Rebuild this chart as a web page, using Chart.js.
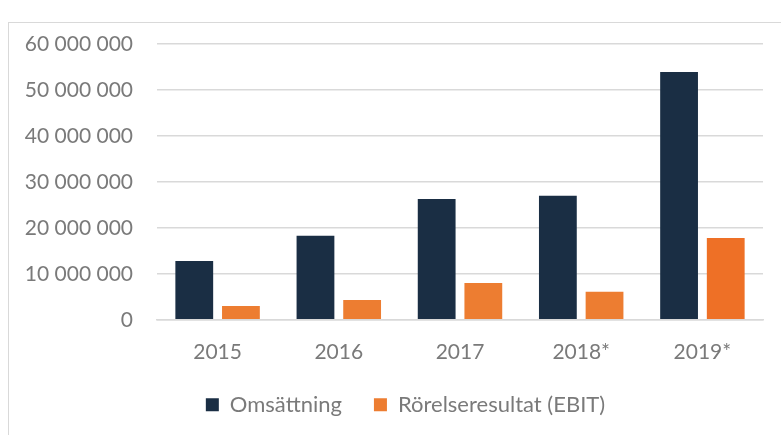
<!DOCTYPE html>
<html>
<head>
<meta charset="utf-8">
<script src="https://cdn.jsdelivr.net/npm/chart.js@4.4.1/dist/chart.umd.min.js"></script>
<style>
  html, body { margin: 0; padding: 0; background: #fff; }
  #wrap { position: relative; width: 781px; height: 435px; overflow: hidden; }
  #frame { position: absolute; left: 8px; top: 22px; width: 820px; height: 440px; border: 1px solid #d9d9d9; box-sizing: border-box; }
  #chartBox { position: absolute; left: 0; top: 0; width: 781px; height: 435px; }
</style>
</head>
<body>
<div id="wrap">
  <div id="frame"></div>
  <div id="chartBox"><canvas id="barChart"></canvas></div>
</div>
<script>
const years = ["2015", "2016", "2017", "2018*", "2019*"];
const omsattning = [12800000, 18300000, 26300000, 27000000, 53900000];
const ebit = [3000000, 4300000, 8000000, 6100000, 17800000];
const yTicks = [0, 10000000, 20000000, 30000000, 40000000, 50000000, 60000000];

const textColor = "#7a7a7a";
const gridColor = "#d9d9d9";
const navy = "#1a2e44";
const orangeColors = ["#ed7d31", "#ed7d31", "#ed7d31", "#ed7d31", "#ee7026"];

function spaced(v) {
    return String(v).replace(/\B(?=(\d{3})+(?!\d))/g, " ");
}

// move the legend a bit: higher and to the right of where chart.js puts it
const legendShift = {
    id: "legendShift",
    afterLayout(chart) {
        const l = chart.legend;
        l.top = chart.chartArea.bottom + 42;
        l.bottom = chart.height;
        l.left += 24;
    }
};

const ctx = document.getElementById("barChart").getContext("2d");
new Chart(ctx, {
    type: "bar",
    data: {
        labels: years,
        datasets: [
            { label: "Omsättning", data: omsattning, backgroundColor: navy },
            { label: "Rörelseresultat (EBIT)", data: ebit, backgroundColor: orangeColors }
        ]
    },
    options: {
        responsive: true,
        maintainAspectRatio: false,
        animation: false,
        categoryPercentage: 0.77,
        barPercentage: 0.81,
        layout: { padding: { left: 24, right: 18, top: 44, bottom: 0 } },
        plugins: {
            tooltip: { enabled: false },
            legend: {
                position: "bottom",
                maxHeight: 50,
                labels: {
                    color: textColor,
                    font: { family: "Lato", size: 22 },
                    boxWidth: 13,
                    boxHeight: 13,
                    padding: 32,
                    generateLabels: chart => chart.data.datasets.map((ds, i) => ({
                        text: ds.label,
                        fillStyle: i === 0 ? navy : orangeColors[0],
                        strokeStyle: "transparent",
                        lineWidth: 0,
                        fontColor: textColor,
                        datasetIndex: i
                    }))
                }
            }
        },
        scales: {
            x: {
                grid: { display: false, drawTicks: false },
                border: { display: true, color: gridColor, width: 1.5 },
                ticks: { color: textColor, font: { family: "Lato", size: 21 }, padding: 20 }
            },
            y: {
                min: 0,
                max: 60000000,
                afterBuildTicks: scale => { scale.ticks = yTicks.map(v => ({ value: v })); },
                afterFit: scale => { scale.width = 133; },
                grid: { color: gridColor, lineWidth: 1.5, drawTicks: false },
                border: { display: false },
                ticks: {
                    color: textColor,
                    font: { family: "Lato", size: 21 },
                    padding: 24,
                    callback: v => spaced(v)
                }
            }
        }
    },
    plugins: [legendShift]
});
</script>
</body>
</html>
